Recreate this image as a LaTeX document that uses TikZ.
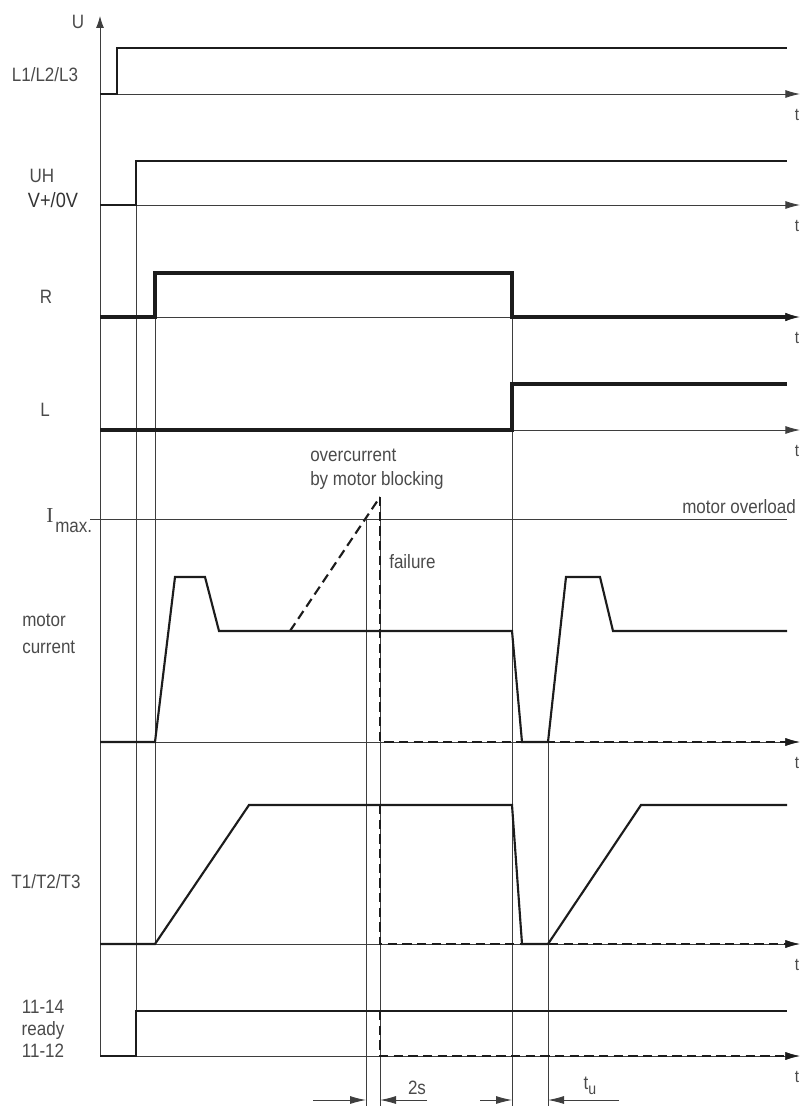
\documentclass[tikz,border=0pt]{standalone}
\usepackage{fontspec}
\setmainfont{Liberation Sans}[FakeStretch=0.88]
\newfontfamily\serifI{Liberation Serif}
\usetikzlibrary{arrows.meta}
\definecolor{lblgray}{HTML}{4A4A4A}
\definecolor{ink}{HTML}{1C1C1C}

\begin{document}
\begin{tikzpicture}[x=0.75pt, y=-0.75pt,
    thin/.style={draw=ink!85, line width=0.65pt},
    taxis/.style={thin, -{Latex[length=11pt,width=6pt]}},
    dim/.style={thin, -{Latex[length=12pt,width=6pt]}},
    sig/.style={draw=ink, line width=1.6pt, line join=miter},
    sigb/.style={draw=ink, line width=2.4pt, line join=miter},
    fail/.style={sig, dash pattern=on 7pt off 4pt},
    lbl/.style={text=lblgray, font=\fontsize{14.5}{16}\selectfont, inner sep=0pt},
    tlab/.style={text=lblgray, font=\fontsize{13}{14}\selectfont, inner sep=0pt}
]
\useasboundingbox (0,0) rectangle (802,1106);

\foreach \yy/\nm in {94/l, 205/uh, 317/r, 430/ll, 742/i, 944/tt, 1056/rd} {
  \draw[taxis] (100,\yy) -- (800,\yy);
  \node[tlab] (t\nm) at (797,\yy+21) {t};
}
\draw[thin, -{Latex[length=9pt,width=6pt]}] (100,1056) -- (100,16);
\draw[thin] (90,519) -- (787,519);
\draw[thin] (136,161) -- (136,1056);
\draw[thin] (155,273) -- (155,944);
\draw[thin] (366,519) -- (366,1106);
\draw[thin] (380,497) -- (380,1106);
\draw[thin] (512,273) -- (512,1106);
\draw[thin] (548,742) -- (548,1106);

\draw[sig] (100,94) -- (117,94) -- (117,48) -- (787,48);
\draw[sig] (100,205) -- (136,205) -- (136,161) -- (787,161);
\draw[sigb, -{Latex[length=11pt,width=6.5pt]}] (100,317) -- (155,317) -- (155,273)
  -- (512,273) -- (512,317) -- (800,317);
\draw[sigb] (100,430) -- (512,430) -- (512,384) -- (787,384);
\draw[sig] (100,742) -- (155,742) -- (175,577) -- (205,577) -- (219,631) -- (512,631)
  -- (522,742) -- (548,742) -- (566,577) -- (600,577) -- (613,631) -- (787,631);
\draw[fail] (290,631) -- (380,497);
\draw[fail, -{Latex[length=11pt,width=6pt]}] (380,497) -- (380,742) -- (800,742);
\draw[sig] (100,944) -- (155,944) -- (249,805) -- (512,805) -- (522,944) -- (548,944)
  -- (641,805) -- (787,805);
\draw[fail, -{Latex[length=11pt,width=6pt]}] (380,805) -- (380,944) -- (800,944);
\draw[sig] (100,1056) -- (136,1056) -- (136,1011) -- (787,1011);
\draw[fail, -{Latex[length=11pt,width=6pt]}] (380,1011) -- (380,1056) -- (800,1056);

\draw[dim] (313,1100) -- (366,1100);
\draw[dim] (427,1100) -- (380,1100);
\draw[dim] (480,1100) -- (512,1100);
\draw[dim] (619,1100) -- (548,1100);

\node[lbl] (uaxis) at (78,22) {U};
\node[lbl] (lmains) at (45,75) {L1/L2/L3};
\node[lbl] (luh) at (42,176) {UH};
\node[lbl, font=\fontsize{15.5}{17}\selectfont, text=ink!90] (lsupply) at (53,200) {V+/0V};
\node[lbl] (lright) at (46,297) {R};
\node[lbl] (lleft) at (45,410) {L};
\node[lbl, anchor=west] (lover) at (310,455) {overcurrent};
\node[lbl, anchor=west] (lblock) at (310,480) {by motor blocking};
\node[lbl, anchor=west] (lfail) at (389,562) {failure};
\node[lbl, anchor=east] (lovl) at (796,507) {motor overload};
\node[lbl, font=\fontsize{16}{16}\serifI\selectfont] (limaxI) at (50,516) {I};
\node[lbl, anchor=west] (limax) at (55,527) {max.};
\node[lbl, anchor=west, align=left, font=\fontsize{14.5}{20}\selectfont] (lcurr) at (22,634) {motor\\current};
\node[lbl] (lout) at (46,882) {T1/T2/T3};
\node[lbl, align=center, font=\fontsize{14.5}{16.5}\selectfont] (lready) at (43,1029) {11-14\\ready\\11-12};
\node[lbl] (ltwos) at (417,1088) {2s};
\node[lbl] (ltu) at (590,1086) {t\raisebox{-0.45ex}{\fontsize{12}{12}\selectfont u}};
\end{tikzpicture}
\end{document}
